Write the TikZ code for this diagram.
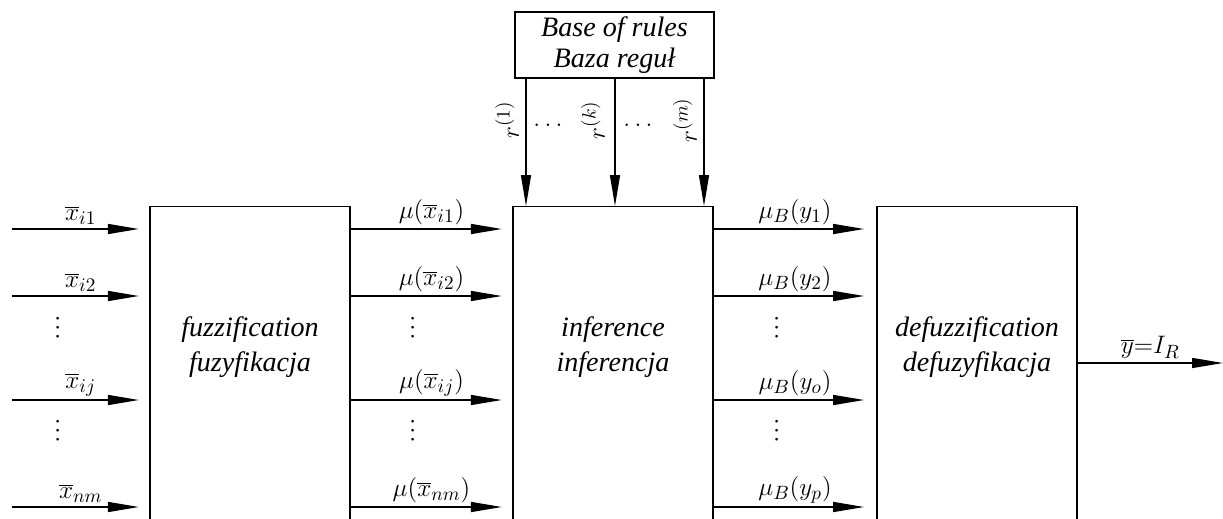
\documentclass[tikz,border=0pt]{standalone}
\usepackage{fontspec}
\setmainfont{Liberation Serif}
\usetikzlibrary{arrows.meta}
\tikzset{
  block/.style={draw,line width=.7pt,minimum width=4cm,minimum height=7cm,anchor=north,inner sep=0pt},
  blocktext/.style={align=center,font=\fontsize{16}{20}\selectfont\itshape},
  arr/.style={line width=.8pt,-{Triangle[length=.62cm,width=.2cm]}},
  lab/.style={font=\fontsize{15}{18}\selectfont,inner sep=2pt},
  dts/.style={font=\fontsize{10}{12}\selectfont\boldmath,inner sep=0pt,rotate=90},
  rdts/.style={font=\fontsize{15}{18}\selectfont,inner sep=0pt}
}
\begin{document}
\begin{tikzpicture}[x=0.02cm,y=0.02cm]
\path[use as bounding box] (0,0) rectangle (1223,518);
\clip (0,0) rectangle (1223,518);
% blocks
\node[block] (fuzz) at (250,312) {};
\node[block] (infer) at (613,312) {};
\node[block] (defuzz) at (977,312) {};
\node[draw,line width=.7pt,minimum width=3.98cm,minimum height=1.32cm,inner sep=0pt,
  align=center,font=\fontsize{16}{17.5}\selectfont\itshape] (rules) at (614.5,473) {Base of rules\\Baza regu\l};
\node[blocktext] (fuzztxt) at ([yshift=-2.82cm]fuzz.north) {fuzzification\\fuzyfikacja};
\node[blocktext] (infertxt) at ([yshift=-2.82cm]infer.north) {inference\\inferencja};
\node[blocktext] (defuzztxt) at ([yshift=-2.82cm]defuzz.north) {defuzzification\\defuzyfikacja};
% rules
\coordinate (r1) at (526,0);
\coordinate (rk) at (615,0);
\coordinate (rm) at (704,0);
\draw[arr] (rules.south -| r1) -- (infer.north -| r1);
\draw[arr] (rules.south -| rk) -- (infer.north -| rk);
\draw[arr] (rules.south -| rm) -- (infer.north -| rm);
\node[lab,rotate=90] (r1lab) at (507,398) {$r^{(1)}$};
\node[lab,rotate=90] (rklab) at (593,398) {$r^{(k)}$};
\node[lab,rotate=90] (rmlab) at (685,398) {$r^{(m)}$};
\node[rdts] (rdots1) at (548,393) {$\dots$};
\node[rdts] (rdots2) at (638,393) {$\dots$};
% inputs
\coordinate (x1) at (12,289);
\coordinate (x2) at (12,222);
\coordinate (xj) at (12,118);
\coordinate (xn) at (12,11);
\draw[arr,shorten >=6] (x1) -- (x1 -| fuzz.west) node[lab,midway,above] {$\overline{x}_{i1}$};
\draw[arr,shorten >=6] (x2) -- (x2 -| fuzz.west) node[lab,midway,above] {$\overline{x}_{i2}$};
\draw[arr,shorten >=6] (xj) -- (xj -| fuzz.west) node[lab,midway,above] {$\overline{x}_{ij}$};
\draw[arr,shorten >=6] (xn) -- (xn -| fuzz.west) node[lab,midway,above] {$\overline{x}_{nm}$};
\node[dts] (xdots1) at (58,190) {$\cdots$};
\node[dts] (xdots2) at (58,87) {$\cdots$};
% fuzzification -> inference
\draw[arr,shorten >=6] (fuzz.east |- x1) -- (infer.west |- x1) node[lab,midway,above] {$\mu(\overline{x}_{i1})$};
\draw[arr,shorten >=6] (fuzz.east |- x2) -- (infer.west |- x2) node[lab,midway,above] {$\mu(\overline{x}_{i2})$};
\draw[arr,shorten >=6] (fuzz.east |- xj) -- (infer.west |- xj) node[lab,midway,above] {$\mu(\overline{x}_{ij})$};
\draw[arr,shorten >=6] (fuzz.east |- xn) -- (infer.west |- xn) node[lab,midway,above] {$\mu(\overline{x}_{nm})$};
\node[dts] (mdots1) at (413,190) {$\cdots$};
\node[dts] (mdots2) at (413,87) {$\cdots$};
% inference -> defuzzification
\draw[arr,shorten >=7] (infer.east |- x1) -- (defuzz.west |- x1) node[lab,midway,above] {$\mu_B(y_1)$};
\draw[arr,shorten >=7] (infer.east |- x2) -- (defuzz.west |- x2) node[lab,midway,above] {$\mu_B(y_2)$};
\draw[arr,shorten >=7] (infer.east |- xj) -- (defuzz.west |- xj) node[lab,midway,above] {$\mu_B(y_o)$};
\draw[arr,shorten >=7] (infer.east |- xn) -- (defuzz.west |- xn) node[lab,midway,above] {$\mu_B(y_p)$};
\node[dts] (bdots1) at (777,190) {$\cdots$};
\node[dts] (bdots2) at (777,87) {$\cdots$};
% output
\coordinate (out) at (1223,155);
\draw[arr] (defuzz.east |- out) -- (out) node[lab,midway,above] {$\overline{y}{=}I_R$};
\end{tikzpicture}
\end{document}
